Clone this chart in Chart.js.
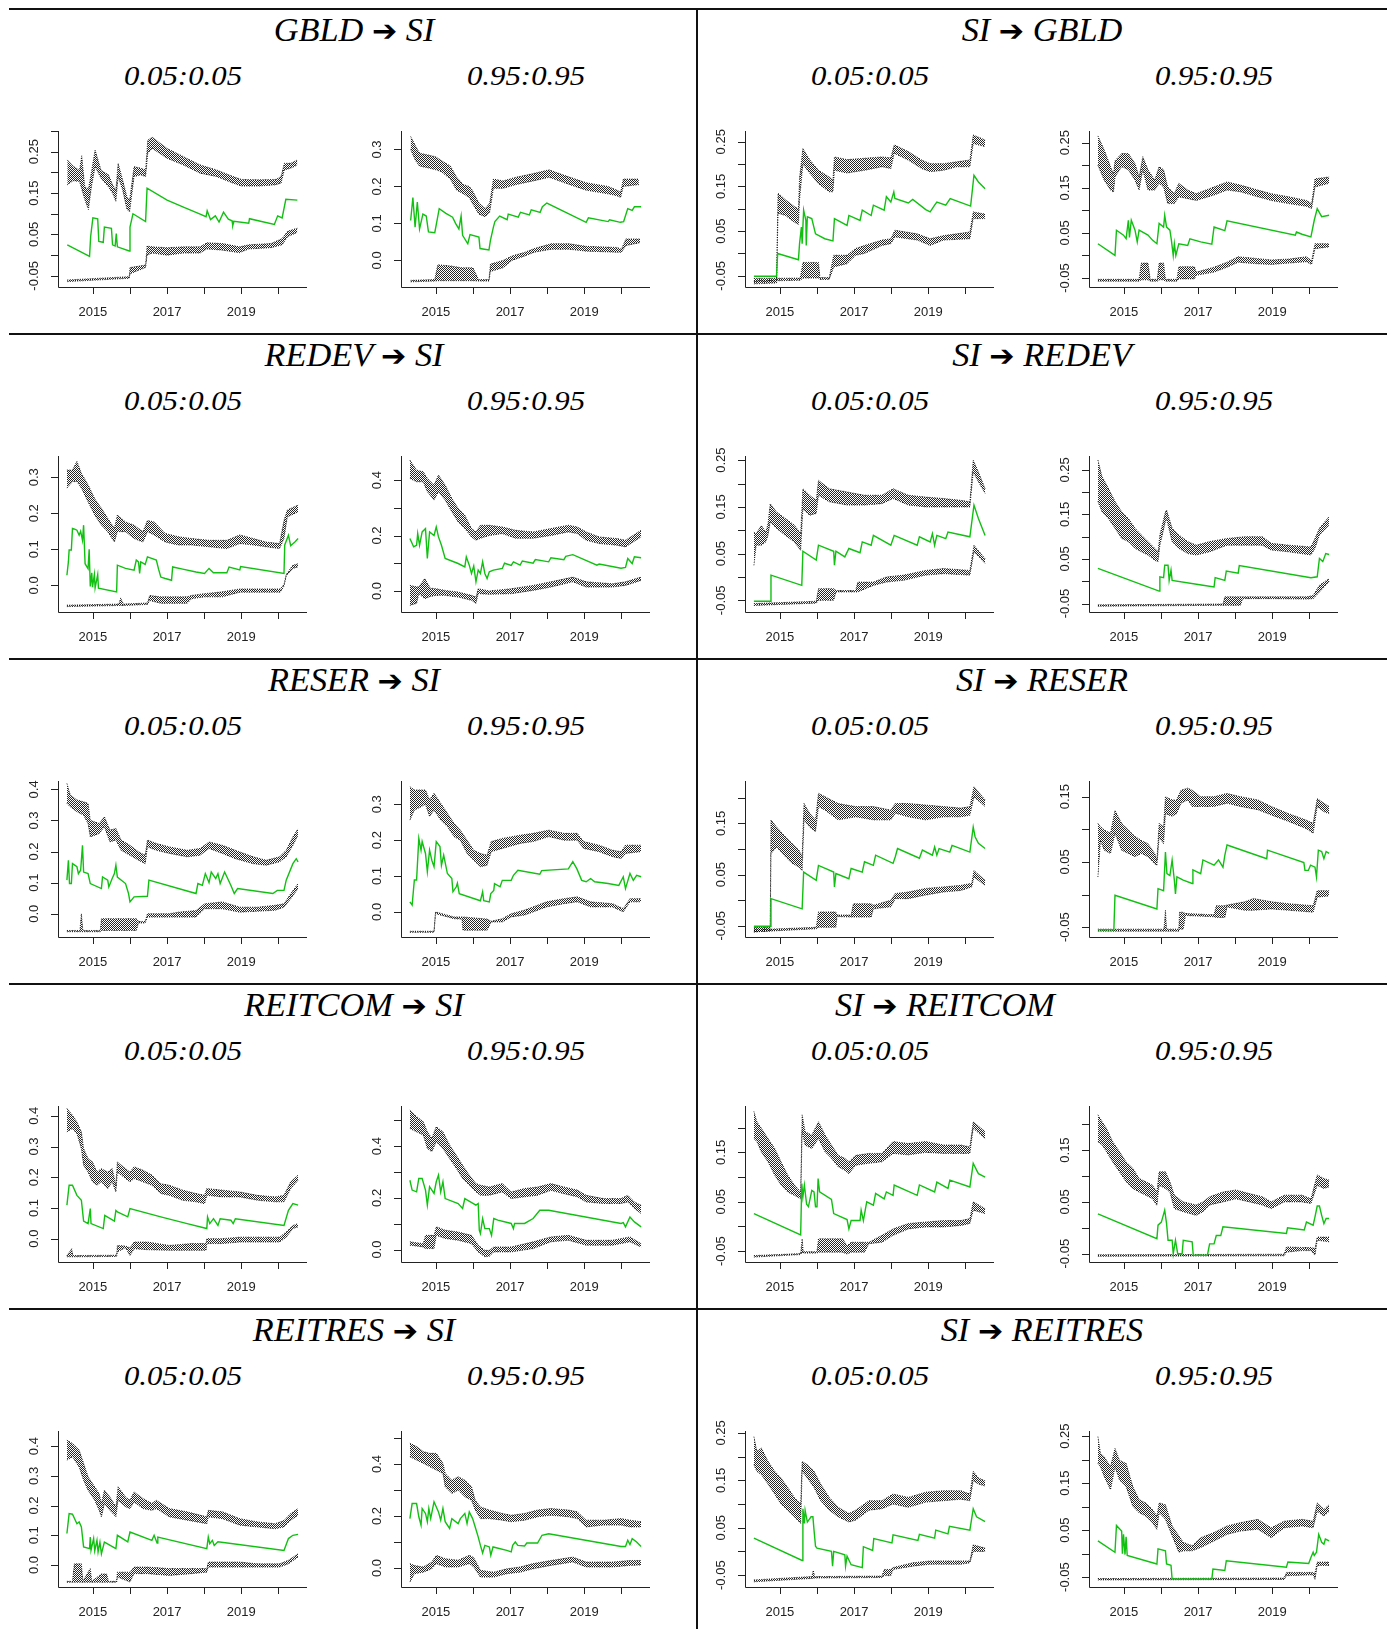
<!DOCTYPE html>
<html>
<head>
<meta charset="utf-8">
<script src="https://cdn.jsdelivr.net/npm/chart.js@4.4.0/dist/chart.umd.min.js"></script>
<style>
body{margin:0;background:#fff;}
#page{position:relative;width:1391px;height:1629px;overflow:hidden;background:#fff;}
.hl{position:absolute;left:9px;width:1378px;height:2px;background:#111;}
.vl{position:absolute;left:696px;top:8px;width:2px;height:1621px;background:#111;}
.ttl,.sub{position:absolute;white-space:nowrap;line-height:1;color:#000;
  font-family:"Liberation Serif","Times New Roman",serif;font-style:italic;}
.ttl{font-size:33px;}
.sub{font-size:28px;}
.arr{font-family:"DejaVu Sans",sans-serif;font-style:normal;font-size:29px;}
canvas{position:absolute;}
</style>
</head>
<body>
<div id="page"></div>
<script>
// names of the panels and the two quantile pairs
const series = ['GBLD','REDEV','RESER','REITCOM','REITRES'];
const quantiles = ['0.05:0.05','0.95:0.95'];

// x axis (years)
const xRange = [2014.06, 2020.77];
const yearTicks = [2014,2015,2016,2017,2018,2019,2020];
const yearLabels = ['2015','2017','2019'];

// y axis ticks
const ticks05 = [-0.05,0,0.05,0.1,0.15,0.2,0.25,0.3];
const labels05 = ['-0.05','0.05','0.15','0.25'];
const ticks10 = [0,0.1,0.2,0.3,0.4,0.5];
const labels10 = ['0.0','0.1','0.2','0.3','0.4'];
const labels20 = ['0.0','0.2','0.4'];

// black bands: [year, low, high]   green line: [year, value]
// GBLD -> SI, 0.05
const c1a_y = [-0.077, 0.30];
const c1a_up = [[2014.31,0.17,0.23],[2014.47,0.18,0.215],[2014.64,0.178,0.205],[2014.7,0.16,0.24],[2014.78,0.135,0.165],[2014.88,0.11,0.16],[2014.96,0.165,0.2],[2015.06,0.214,0.254],[2015.22,0.186,0.205],[2015.42,0.165,0.194],[2015.53,0.15,0.17],[2015.62,0.13,0.157],[2015.68,0.19,0.222],[2015.8,0.158,0.182],[2015.92,0.11,0.14],[2015.99,0.105,0.133],[2016.11,0.19,0.214],[2016.29,0.194,0.21],[2016.42,0.19,0.206],[2016.48,0.246,0.278],[2016.6,0.258,0.285],[2017.0,0.234,0.258],[2017.44,0.218,0.238],[2017.89,0.198,0.218],[2018.33,0.19,0.206],[2018.78,0.174,0.19],[2019.0,0.167,0.183],[2019.49,0.167,0.182],[2019.93,0.17,0.183],[2020.07,0.174,0.19],[2020.16,0.206,0.222],[2020.33,0.21,0.222],[2020.51,0.218,0.23]];
const c1a_mid = [[2014.31,0.025],[2014.91,-0.003],[2014.94,0.045],[2015.0,0.09],[2015.13,0.088],[2015.16,0.033],[2015.28,0.031],[2015.31,0.068],[2015.5,0.065],[2015.53,0.025],[2015.6,0.022],[2015.63,0.052],[2015.66,0.02],[2015.98,0.01],[2016.0,0.068],[2016.08,0.1],[2016.42,0.081],[2016.46,0.162],[2017.0,0.133],[2017.44,0.116],[2017.89,0.099],[2018.05,0.093],[2018.08,0.107],[2018.17,0.086],[2018.3,0.095],[2018.4,0.08],[2018.52,0.104],[2018.65,0.087],[2018.75,0.083],[2018.77,0.072],[2018.8,0.082],[2019.2,0.077],[2019.22,0.088],[2019.89,0.074],[2019.98,0.095],[2020.1,0.09],[2020.2,0.135],[2020.51,0.133]];
const c1a_lo = [[2014.31,-0.064,-0.06],[2015.98,-0.056,-0.052],[2016.0,-0.045,-0.03],[2016.42,-0.03,-0.024],[2016.46,0.0,0.022],[2016.6,0.005,0.02],[2017.0,0.0,0.018],[2017.44,0.005,0.02],[2017.89,0.005,0.02],[2018.07,0.015,0.03],[2018.5,0.012,0.028],[2018.95,0.006,0.02],[2019.2,0.015,0.025],[2019.8,0.018,0.028],[2020.1,0.025,0.04],[2020.25,0.045,0.058],[2020.51,0.055,0.065]];

// GBLD -> SI, 0.95
const c1b_y = [-0.072, 0.35];
const c1b_up = [[2014.32,0.30,0.335],[2014.45,0.27,0.31],[2014.56,0.255,0.29],[2014.8,0.25,0.285],[2015.0,0.245,0.28],[2015.15,0.24,0.27],[2015.39,0.22,0.255],[2015.56,0.19,0.225],[2015.74,0.18,0.205],[2015.9,0.17,0.2],[2015.98,0.155,0.19],[2016.16,0.125,0.155],[2016.33,0.118,0.14],[2016.45,0.13,0.155],[2016.55,0.195,0.22],[2016.81,0.195,0.215],[2017.16,0.205,0.225],[2017.63,0.215,0.235],[2018.05,0.225,0.245],[2018.46,0.21,0.23],[2019.05,0.19,0.21],[2019.64,0.18,0.2],[2019.88,0.175,0.19],[2019.98,0.17,0.185],[2020.05,0.2,0.22],[2020.47,0.205,0.22]];
const c1b_mid = [[2014.32,0.108],[2014.38,0.17],[2014.44,0.09],[2014.5,0.158],[2014.56,0.085],[2014.65,0.125],[2014.74,0.12],[2014.8,0.077],[2014.97,0.075],[2015.09,0.14],[2015.27,0.127],[2015.45,0.117],[2015.53,0.1],[2015.62,0.085],[2015.68,0.12],[2015.72,0.068],[2015.86,0.045],[2015.92,0.07],[2016.16,0.063],[2016.19,0.032],[2016.43,0.028],[2016.47,0.054],[2016.55,0.09],[2016.59,0.105],[2016.72,0.12],[2016.92,0.11],[2016.95,0.125],[2017.22,0.117],[2017.28,0.13],[2017.52,0.123],[2017.57,0.137],[2017.81,0.13],[2017.87,0.145],[2017.99,0.155],[2019.05,0.103],[2019.11,0.115],[2019.64,0.105],[2019.68,0.11],[2019.97,0.103],[2020.06,0.105],[2020.17,0.14],[2020.29,0.135],[2020.35,0.145],[2020.53,0.145]];
const c1b_lo = [[2014.32,-0.058,-0.054],[2014.97,-0.056,-0.052],[2015.05,-0.055,-0.012],[2015.4,-0.055,-0.015],[2015.7,-0.055,-0.02],[2016.0,-0.055,-0.02],[2016.15,-0.056,-0.052],[2016.43,-0.056,-0.052],[2016.47,-0.03,-0.01],[2016.81,-0.02,0.0],[2017.05,0.0,0.012],[2017.4,0.012,0.022],[2017.65,0.022,0.032],[2018.1,0.03,0.045],[2018.6,0.03,0.045],[2019.05,0.025,0.038],[2019.88,0.022,0.035],[2020.0,0.022,0.03],[2020.12,0.04,0.058],[2020.5,0.048,0.058]];

// SI -> GBLD, 0.05
const c2a_y = [-0.075, 0.274];
const c2a_up = [[2014.3,-0.068,-0.062],[2014.91,-0.066,-0.06],[2014.95,0.09,0.135],[2015.15,0.085,0.12],[2015.39,0.07,0.105],[2015.5,0.065,0.1],[2015.53,0.12,0.17],[2015.62,0.2,0.235],[2015.8,0.18,0.21],[2016.04,0.156,0.186],[2016.33,0.138,0.171],[2016.43,0.138,0.164],[2016.47,0.186,0.216],[2016.81,0.18,0.21],[2017.28,0.186,0.213],[2017.75,0.194,0.216],[2017.99,0.19,0.214],[2018.08,0.224,0.243],[2018.46,0.209,0.228],[2018.82,0.19,0.209],[2019.05,0.183,0.201],[2019.41,0.186,0.201],[2019.76,0.194,0.205],[2020.12,0.194,0.209],[2020.21,0.246,0.265],[2020.53,0.239,0.254]];
const c2a_mid = [[2014.3,-0.051],[2014.91,-0.051],[2014.94,0.0],[2015.5,-0.014],[2015.53,0.022],[2015.58,0.059],[2015.6,0.022],[2015.64,0.097],[2015.7,0.074],[2015.71,0.018],[2015.74,0.082],[2015.86,0.078],[2015.96,0.044],[2016.21,0.033],[2016.43,0.028],[2016.47,0.078],[2016.81,0.063],[2016.86,0.085],[2017.16,0.074],[2017.22,0.097],[2017.46,0.085],[2017.52,0.108],[2017.81,0.097],[2017.87,0.127],[2017.99,0.115],[2018.07,0.138],[2018.1,0.123],[2018.46,0.113],[2018.58,0.121],[2018.93,0.098],[2019.05,0.093],[2019.17,0.108],[2019.23,0.115],[2019.47,0.108],[2019.59,0.123],[2020.14,0.106],[2020.23,0.175],[2020.35,0.16],[2020.53,0.145]];
const c2a_lo = [[2014.3,-0.062,-0.056],[2015.55,-0.06,-0.055],[2015.62,-0.055,-0.02],[2016.04,-0.055,-0.02],[2016.08,-0.058,-0.054],[2016.33,-0.058,-0.054],[2016.45,-0.03,-0.004],[2016.81,-0.023,-0.004],[2017.04,-0.004,0.011],[2017.28,0.0,0.018],[2017.75,0.018,0.03],[2017.99,0.022,0.033],[2018.1,0.037,0.052],[2018.7,0.03,0.044],[2019.05,0.018,0.033],[2019.41,0.03,0.04],[2020.12,0.033,0.048],[2020.21,0.078,0.093],[2020.53,0.078,0.088]];

// SI -> GBLD, 0.95
const c2b_y = [-0.07, 0.276];
const c2b_up = [[2014.3,0.2,0.265],[2014.47,0.167,0.234],[2014.64,0.145,0.197],[2014.72,0.14,0.18],[2014.76,0.174,0.21],[2014.94,0.197,0.226],[2015.12,0.19,0.226],[2015.3,0.167,0.204],[2015.41,0.145,0.174],[2015.51,0.19,0.219],[2015.65,0.145,0.19],[2015.83,0.145,0.167],[2015.95,0.16,0.197],[2016.07,0.152,0.19],[2016.18,0.115,0.152],[2016.36,0.115,0.137],[2016.48,0.13,0.16],[2016.72,0.126,0.145],[2016.95,0.122,0.137],[2017.43,0.134,0.152],[2017.78,0.145,0.163],[2018.14,0.141,0.156],[2018.61,0.13,0.145],[2018.97,0.122,0.137],[2019.44,0.115,0.13],[2019.92,0.109,0.122],[2020.06,0.104,0.115],[2020.15,0.152,0.17],[2020.53,0.16,0.174]];
const c2b_mid = [[2014.3,0.026],[2014.76,0.0],[2014.8,0.056],[2014.99,0.045],[2015.06,0.037],[2015.12,0.078],[2015.15,0.04],[2015.2,0.078],[2015.3,0.056],[2015.36,0.03],[2015.41,0.056],[2015.65,0.045],[2015.77,0.034],[2015.89,0.026],[2015.95,0.071],[2016.07,0.063],[2016.1,0.089],[2016.15,0.063],[2016.24,0.056],[2016.28,0.034],[2016.33,0.0],[2016.36,0.026],[2016.4,0.0],[2016.48,0.026],[2016.72,0.022],[2016.78,0.037],[2017.07,0.03],[2017.37,0.025],[2017.43,0.063],[2017.72,0.055],[2017.78,0.077],[2019.62,0.045],[2019.65,0.052],[2019.8,0.047],[2020.04,0.041],[2020.13,0.078],[2020.21,0.104],[2020.33,0.086],[2020.53,0.089]];
const c2b_lo = [[2014.3,-0.057,-0.053],[2015.41,-0.057,-0.053],[2015.47,-0.054,-0.017],[2015.65,-0.054,-0.017],[2015.71,-0.057,-0.053],[2015.9,-0.057,-0.053],[2015.95,-0.054,-0.017],[2016.07,-0.054,-0.017],[2016.12,-0.057,-0.053],[2016.43,-0.057,-0.053],[2016.48,-0.052,-0.025],[2016.9,-0.052,-0.025],[2016.95,-0.044,-0.037],[2017.43,-0.037,-0.026],[2017.78,-0.026,-0.015],[2018.08,-0.015,-0.003],[2018.49,-0.018,-0.006],[2018.97,-0.02,-0.01],[2019.44,-0.017,-0.008],[2019.92,-0.014,-0.003],[2020.06,-0.02,-0.012],[2020.15,0.015,0.026],[2020.53,0.019,0.026]];

// REDEV -> SI, 0.05
const c3a_y = [-0.074, 0.359];
const c3a_up = [[2014.3,0.27,0.32],[2014.45,0.288,0.32],[2014.57,0.288,0.344],[2014.69,0.27,0.311],[2014.87,0.232,0.279],[2015.05,0.195,0.24],[2015.23,0.167,0.214],[2015.4,0.149,0.186],[2015.58,0.12,0.158],[2015.66,0.149,0.195],[2015.88,0.149,0.176],[2016.11,0.13,0.167],[2016.35,0.12,0.149],[2016.47,0.149,0.18],[2016.65,0.14,0.176],[2016.95,0.12,0.144],[2017.3,0.112,0.135],[2017.66,0.112,0.13],[2018.13,0.107,0.125],[2018.61,0.102,0.125],[2018.96,0.116,0.14],[2019.32,0.112,0.13],[2019.67,0.107,0.12],[2020.03,0.102,0.116],[2020.15,0.13,0.18],[2020.24,0.19,0.209],[2020.53,0.204,0.223]];
const c3a_mid = [[2014.3,0.028],[2014.34,0.065],[2014.36,0.098],[2014.42,0.098],[2014.45,0.158],[2014.51,0.156],[2014.57,0.153],[2014.63,0.139],[2014.67,0.15],[2014.72,0.125],[2014.75,0.167],[2014.79,0.06],[2014.87,0.046],[2014.9,0.1],[2014.93,-0.003],[2014.97,0.035],[2014.99,-0.005],[2015.04,0.03],[2015.06,-0.007],[2015.13,0.03],[2015.15,-0.008],[2015.64,-0.018],[2015.66,0.056],[2015.88,0.047],[2016.11,0.042],[2016.17,0.07],[2016.23,0.065],[2016.26,0.033],[2016.29,0.065],[2016.41,0.058],[2016.47,0.079],[2016.71,0.07],[2016.77,0.045],[2016.83,0.023],[2016.95,0.019],[2017.12,0.014],[2017.15,0.051],[2017.42,0.045],[2017.78,0.037],[2018.01,0.033],[2018.13,0.047],[2018.25,0.035],[2018.61,0.035],[2018.67,0.051],[2018.96,0.043],[2018.98,0.052],[2020.15,0.033],[2020.17,0.112],[2020.27,0.139],[2020.33,0.11],[2020.45,0.121],[2020.53,0.13]];
const c3a_lo = [[2014.3,-0.059,-0.055],[2015.7,-0.056,-0.052],[2015.75,-0.056,-0.035],[2015.82,-0.056,-0.052],[2016.47,-0.053,-0.049],[2016.53,-0.042,-0.028],[2016.83,-0.05,-0.032],[2017.54,-0.05,-0.032],[2017.66,-0.037,-0.028],[2018.01,-0.032,-0.023],[2018.49,-0.032,-0.018],[2018.96,-0.019,-0.01],[2019.67,-0.019,-0.01],[2020.05,-0.019,-0.01],[2020.15,-0.002,0.002],[2020.21,0.026,0.03],[2020.39,0.047,0.056],[2020.53,0.051,0.06]];

// REDEV -> SI, 0.95
const c3b_y = [-0.076, 0.487];
const c3b_up = [[2014.3,0.406,0.472],[2014.48,0.394,0.436],[2014.66,0.394,0.43],[2014.77,0.358,0.406],[2014.95,0.328,0.382],[2015.07,0.358,0.418],[2015.25,0.328,0.382],[2015.43,0.286,0.334],[2015.6,0.249,0.298],[2015.78,0.225,0.273],[2015.96,0.195,0.225],[2016.08,0.183,0.213],[2016.2,0.19,0.237],[2016.44,0.2,0.237],[2016.79,0.207,0.231],[2017.15,0.19,0.219],[2017.62,0.19,0.213],[2018.1,0.2,0.225],[2018.57,0.213,0.237],[2018.81,0.207,0.231],[2019.05,0.183,0.213],[2019.4,0.171,0.195],[2019.88,0.165,0.189],[2020.11,0.159,0.183],[2020.53,0.195,0.219]];
const c3b_mid = [[2014.3,0.189],[2014.4,0.159],[2014.48,0.165],[2014.51,0.207],[2014.56,0.165],[2014.63,0.213],[2014.72,0.225],[2014.77,0.117],[2014.83,0.213],[2014.95,0.2],[2015.01,0.231],[2015.07,0.195],[2015.15,0.165],[2015.25,0.117],[2015.6,0.099],[2015.78,0.087],[2015.82,0.123],[2015.9,0.093],[2015.96,0.063],[2016.02,0.09],[2016.08,0.033],[2016.14,0.075],[2016.2,0.063],[2016.26,0.105],[2016.32,0.063],[2016.38,0.045],[2016.44,0.069],[2016.55,0.075],[2016.79,0.081],[2016.85,0.1],[2017.03,0.092],[2017.09,0.105],[2017.27,0.093],[2017.33,0.108],[2017.62,0.1],[2017.68,0.113],[2018.04,0.105],[2018.1,0.12],[2018.45,0.113],[2018.5,0.125],[2018.69,0.131],[2019.34,0.093],[2019.4,0.097],[2019.99,0.082],[2020.11,0.085],[2020.17,0.117],[2020.29,0.099],[2020.35,0.123],[2020.53,0.12]];
const c3b_lo = [[2014.3,-0.052,0.02],[2014.48,-0.045,0.015],[2014.54,-0.01,0.014],[2014.7,-0.028,0.045],[2014.85,-0.02,0.01],[2015.01,-0.016,0.008],[2015.25,-0.016,0.002],[2015.6,-0.022,-0.004],[2015.96,-0.034,-0.016],[2016.08,-0.045,-0.022],[2016.14,-0.01,0.008],[2016.44,-0.012,0.0],[2017.03,-0.01,0.008],[2017.62,0.002,0.02],[2018.1,0.014,0.033],[2018.69,0.033,0.05],[2019.05,0.014,0.033],[2019.76,0.014,0.026],[2020.11,0.02,0.033],[2020.53,0.038,0.05]];

// SI -> REDEV, 0.05
const c4a_y = [-0.075, 0.259];
const c4a_up = [[2014.3,0.025,0.096],[2014.36,0.068,0.093],[2014.5,0.068,0.11],[2014.62,0.075,0.096],[2014.68,0.089,0.114],[2014.74,0.118,0.157],[2014.91,0.104,0.139],[2015.15,0.089,0.125],[2015.39,0.075,0.111],[2015.56,0.057,0.093],[2015.62,0.146,0.189],[2015.8,0.132,0.175],[2015.98,0.136,0.164],[2016.04,0.175,0.207],[2016.33,0.161,0.189],[2016.81,0.154,0.182],[2017.28,0.154,0.175],[2017.75,0.157,0.175],[2018.05,0.168,0.189],[2018.46,0.154,0.175],[2018.93,0.15,0.171],[2019.41,0.15,0.168],[2019.88,0.15,0.164],[2020.12,0.15,0.161],[2020.21,0.225,0.25],[2020.35,0.204,0.225],[2020.53,0.179,0.189]];
const c4a_mid = [[2014.3,-0.052],[2014.74,-0.052],[2014.76,0.004],[2015.59,-0.018],[2015.62,0.055],[2015.98,0.036],[2016.04,0.068],[2016.45,0.055],[2016.47,0.025],[2016.51,0.055],[2016.75,0.043],[2016.86,0.061],[2017.16,0.052],[2017.22,0.075],[2017.46,0.068],[2017.52,0.089],[2017.99,0.068],[2018.08,0.089],[2018.7,0.068],[2018.76,0.086],[2019.05,0.075],[2019.11,0.093],[2019.17,0.068],[2019.23,0.089],[2019.47,0.082],[2019.53,0.096],[2020.12,0.086],[2020.23,0.154],[2020.35,0.125],[2020.53,0.089]];
const c4a_lo = [[2014.3,-0.061,-0.057],[2015.98,-0.056,-0.052],[2016.04,-0.05,-0.025],[2016.45,-0.05,-0.025],[2016.51,-0.032,-0.029],[2017.04,-0.032,-0.029],[2017.1,-0.032,-0.011],[2017.52,-0.018,-0.011],[2017.87,-0.011,0.0],[2018.34,-0.007,0.004],[2018.93,0.004,0.014],[2019.41,0.007,0.018],[2020.12,0.004,0.014],[2020.23,0.054,0.068],[2020.53,0.029,0.039]];

// SI -> REDEV, 0.95
const c4b_y = [-0.069, 0.281];
const c4b_up = [[2014.3,0.179,0.272],[2014.41,0.156,0.235],[2014.58,0.141,0.209],[2014.76,0.119,0.179],[2014.94,0.096,0.156],[2015.12,0.089,0.141],[2015.3,0.074,0.119],[2015.47,0.066,0.104],[2015.65,0.059,0.089],[2015.83,0.047,0.074],[2015.92,0.044,0.066],[2015.97,0.081,0.104],[2016.12,0.134,0.156],[2016.15,0.14,0.16],[2016.3,0.089,0.119],[2016.48,0.074,0.104],[2016.72,0.062,0.089],[2016.95,0.059,0.081],[2017.31,0.066,0.089],[2017.78,0.081,0.096],[2018.26,0.081,0.1],[2018.73,0.081,0.1],[2018.97,0.07,0.085],[2019.44,0.066,0.081],[2020.04,0.059,0.077],[2020.15,0.074,0.096],[2020.27,0.104,0.119],[2020.53,0.126,0.145]];
const c4b_mid = [[2014.3,0.029],[2015.95,-0.022],[2015.97,0.01],[2016.07,0.008],[2016.1,0.036],[2016.19,0.036],[2016.22,0.002],[2016.27,0.025],[2016.3,0.002],[2017.13,-0.009],[2017.43,-0.013],[2017.46,0.008],[2017.72,0.002],[2017.76,0.023],[2018.08,0.018],[2018.11,0.035],[2020.04,0.008],[2020.21,0.01],[2020.27,0.051],[2020.36,0.044],[2020.44,0.062],[2020.53,0.06]];
const c4b_lo = [[2014.3,-0.056,-0.053],[2017.67,-0.054,-0.051],[2017.72,-0.054,-0.035],[2018.14,-0.054,-0.035],[2018.2,-0.039,-0.035],[2018.97,-0.039,-0.035],[2019.92,-0.04,-0.035],[2020.1,-0.039,-0.032],[2020.27,-0.024,-0.009],[2020.53,-0.001,0.006]];

// RESER -> SI, 0.05
const c5a_y = [-0.075, 0.427];
const c5a_up = [[2014.3,0.355,0.419],[2014.39,0.344,0.382],[2014.57,0.328,0.366],[2014.75,0.317,0.36],[2014.87,0.29,0.355],[2014.93,0.247,0.301],[2015.17,0.258,0.29],[2015.31,0.28,0.312],[2015.46,0.231,0.269],[2015.62,0.237,0.274],[2015.76,0.204,0.237],[2016.0,0.188,0.22],[2016.23,0.172,0.199],[2016.41,0.161,0.188],[2016.47,0.215,0.237],[2016.71,0.204,0.226],[2017.06,0.194,0.215],[2017.54,0.183,0.204],[2017.89,0.188,0.21],[2018.13,0.21,0.231],[2018.49,0.194,0.22],[2018.84,0.177,0.204],[2019.32,0.161,0.183],[2019.67,0.156,0.172],[2020.03,0.167,0.183],[2020.21,0.183,0.204],[2020.39,0.22,0.247],[2020.53,0.253,0.274]];
const c5a_mid = [[2014.3,0.108],[2014.34,0.172],[2014.37,0.097],[2014.42,0.097],[2014.45,0.161],[2014.57,0.151],[2014.61,0.129],[2014.67,0.14],[2014.72,0.22],[2014.75,0.134],[2014.87,0.129],[2014.93,0.097],[2015.23,0.081],[2015.26,0.118],[2015.4,0.108],[2015.43,0.086],[2015.52,0.113],[2015.58,0.129],[2015.62,0.156],[2015.66,0.118],[2015.88,0.097],[2015.96,0.065],[2016.0,0.038],[2016.11,0.054],[2016.47,0.056],[2016.51,0.108],[2017.78,0.065],[2017.83,0.097],[2017.95,0.091],[2018.03,0.129],[2018.13,0.1],[2018.19,0.134],[2018.31,0.113],[2018.37,0.129],[2018.43,0.097],[2018.55,0.134],[2018.72,0.091],[2018.81,0.065],[2018.9,0.081],[2019.85,0.065],[2019.97,0.075],[2020.15,0.075],[2020.21,0.108],[2020.39,0.161],[2020.48,0.177],[2020.53,0.167]];
const c5a_lo = [[2014.3,-0.058,-0.054],[2014.65,-0.058,-0.054],[2014.69,-0.058,0.0],[2014.73,-0.058,-0.054],[2015.2,-0.058,-0.054],[2015.23,-0.054,-0.016],[2016.17,-0.054,-0.016],[2016.23,-0.03,-0.025],[2016.41,-0.03,-0.025],[2016.47,-0.011,0.0],[2017.06,-0.011,0.0],[2017.3,-0.011,0.005],[2017.78,-0.011,0.01],[2018.01,0.016,0.032],[2018.49,0.016,0.038],[2018.96,0.005,0.021],[2019.44,0.008,0.021],[2019.91,0.011,0.027],[2020.15,0.021,0.032],[2020.33,0.048,0.064],[2020.53,0.081,0.097]];

// RESER -> SI, 0.95
const c5b_y = [-0.07, 0.365];
const c5b_up = [[2014.3,0.256,0.349],[2014.42,0.284,0.34],[2014.6,0.293,0.34],[2014.72,0.3,0.34],[2014.83,0.266,0.312],[2014.95,0.284,0.331],[2015.13,0.256,0.303],[2015.31,0.238,0.275],[2015.49,0.21,0.247],[2015.66,0.2,0.228],[2015.84,0.163,0.2],[2016.02,0.144,0.172],[2016.2,0.126,0.163],[2016.38,0.13,0.158],[2016.49,0.168,0.196],[2016.79,0.177,0.205],[2017.27,0.191,0.214],[2017.62,0.196,0.219],[2018.04,0.21,0.228],[2018.45,0.2,0.219],[2018.81,0.2,0.219],[2018.98,0.177,0.196],[2019.4,0.168,0.186],[2019.76,0.154,0.172],[2019.99,0.149,0.168],[2020.11,0.163,0.186],[2020.53,0.168,0.186]];
const c5b_mid = [[2014.3,0.028],[2014.36,0.019],[2014.42,0.089],[2014.48,0.089],[2014.54,0.205],[2014.6,0.172],[2014.63,0.196],[2014.72,0.163],[2014.77,0.112],[2014.83,0.172],[2014.89,0.144],[2014.95,0.126],[2015.01,0.196],[2015.11,0.182],[2015.15,0.13],[2015.21,0.158],[2015.31,0.107],[2015.43,0.093],[2015.46,0.056],[2015.55,0.07],[2015.58,0.08],[2015.63,0.051],[2016.2,0.031],[2016.26,0.056],[2016.29,0.031],[2016.44,0.028],[2016.48,0.051],[2016.56,0.06],[2016.58,0.079],[2016.73,0.07],[2016.79,0.088],[2017.03,0.088],[2017.09,0.102],[2017.21,0.116],[2017.8,0.105],[2017.85,0.115],[2018.57,0.12],[2018.69,0.14],[2018.8,0.12],[2018.93,0.088],[2019.05,0.084],[2019.17,0.093],[2019.28,0.084],[2019.64,0.079],[2019.93,0.074],[2020.05,0.098],[2020.11,0.065],[2020.23,0.107],[2020.32,0.088],[2020.41,0.102],[2020.53,0.098]];
const c5b_lo = [[2014.3,-0.057,-0.054],[2014.95,-0.057,-0.054],[2014.99,-0.005,0.0],[2015.49,-0.019,-0.014],[2015.7,-0.02,-0.014],[2015.73,-0.051,-0.014],[2016.38,-0.051,-0.02],[2016.49,-0.028,-0.026],[2016.79,-0.028,-0.019],[2017.03,-0.014,-0.005],[2017.39,-0.009,0.005],[2017.62,0.0,0.014],[2017.98,0.014,0.028],[2018.45,0.023,0.037],[2018.81,0.028,0.042],[2019.17,0.014,0.028],[2019.76,0.014,0.023],[2020.05,0.0,0.009],[2020.23,0.028,0.037],[2020.53,0.028,0.037]];

// SI -> RESER, 0.05
const c6a_y = [-0.072, 0.233];
const c6a_up = [[2014.3,-0.062,-0.053],[2014.74,-0.06,-0.053],[2014.76,0.091,0.157],[2014.91,0.104,0.143],[2015.15,0.085,0.124],[2015.33,0.072,0.111],[2015.51,0.065,0.098],[2015.6,0.058,0.085],[2015.65,0.157,0.189],[2015.8,0.143,0.17],[2015.96,0.134,0.157],[2016.04,0.183,0.209],[2016.22,0.176,0.202],[2016.57,0.157,0.189],[2017.04,0.163,0.183],[2017.52,0.157,0.183],[2017.99,0.157,0.176],[2018.11,0.17,0.189],[2018.46,0.163,0.189],[2018.93,0.157,0.186],[2019.41,0.163,0.183],[2019.88,0.163,0.18],[2020.12,0.166,0.183],[2020.23,0.202,0.222],[2020.53,0.183,0.196]];
const c6a_mid = [[2014.3,-0.051],[2014.74,-0.051],[2014.76,0.003],[2015.6,-0.017],[2015.64,0.055],[2015.98,0.039],[2016.04,0.068],[2016.45,0.055],[2016.47,0.026],[2016.51,0.052],[2016.86,0.042],[2016.92,0.062],[2017.22,0.055],[2017.28,0.075],[2017.52,0.068],[2017.58,0.088],[2018.05,0.072],[2018.11,0.085],[2018.17,0.101],[2018.76,0.082],[2018.84,0.098],[2019.11,0.088],[2019.17,0.104],[2019.23,0.088],[2019.29,0.101],[2019.58,0.094],[2019.64,0.107],[2020.12,0.094],[2020.21,0.143],[2020.26,0.124],[2020.35,0.111],[2020.53,0.101]];
const c6a_lo = [[2014.3,-0.062,-0.058],[2015.98,-0.056,-0.053],[2016.04,-0.053,-0.023],[2016.51,-0.053,-0.023],[2016.54,-0.032,-0.029],[2016.92,-0.033,-0.029],[2016.98,-0.033,-0.007],[2017.46,-0.033,-0.007],[2017.52,-0.017,-0.01],[2017.99,-0.013,0.0],[2018.11,0.003,0.013],[2018.46,0.003,0.016],[2018.93,0.01,0.023],[2019.41,0.016,0.026],[2019.88,0.019,0.029],[2020.17,0.026,0.033],[2020.23,0.045,0.058],[2020.53,0.029,0.039]];

// SI -> RESER, 0.95
const c6b_y = [-0.065, 0.174];
const c6b_up = [[2014.3,0.027,0.109],[2014.37,0.083,0.104],[2014.47,0.068,0.099],[2014.64,0.063,0.094],[2014.76,0.094,0.129],[2014.94,0.068,0.109],[2015.12,0.063,0.099],[2015.3,0.058,0.089],[2015.47,0.063,0.083],[2015.65,0.058,0.078],[2015.83,0.047,0.063],[2015.89,0.045,0.053],[2015.95,0.088,0.109],[2016.07,0.078,0.104],[2016.12,0.124,0.15],[2016.3,0.12,0.145],[2016.42,0.124,0.145],[2016.54,0.14,0.16],[2016.72,0.145,0.163],[2016.84,0.135,0.16],[2017.07,0.135,0.15],[2017.43,0.135,0.15],[2017.78,0.14,0.155],[2018.14,0.135,0.15],[2018.61,0.13,0.145],[2018.97,0.122,0.135],[2019.44,0.112,0.124],[2019.92,0.101,0.114],[2020.1,0.094,0.109],[2020.21,0.135,0.147],[2020.39,0.127,0.14],[2020.53,0.124,0.135]];
const c6b_mid = [[2014.3,-0.054],[2014.73,-0.054],[2014.76,-0.001],[2015.89,-0.022],[2015.92,0.009],[2016.07,0.006],[2016.12,0.065],[2016.16,0.032],[2016.24,0.029],[2016.3,0.053],[2016.36,0.022],[2016.39,0.001],[2016.43,0.027],[2016.6,0.022],[2016.84,0.017],[2016.86,0.038],[2017.07,0.032],[2017.13,0.053],[2017.43,0.045],[2017.55,0.053],[2017.67,0.042],[2017.72,0.06],[2017.78,0.076],[2018.85,0.055],[2018.87,0.068],[2019.85,0.049],[2019.88,0.037],[2019.97,0.037],[2020.03,0.045],[2020.15,0.042],[2020.19,0.027],[2020.24,0.068],[2020.33,0.066],[2020.39,0.055],[2020.45,0.066],[2020.53,0.063]];
const c6b_lo = [[2014.3,-0.056,-0.053],[2016.08,-0.056,-0.053],[2016.12,-0.056,-0.024],[2016.15,-0.056,-0.053],[2016.48,-0.056,-0.053],[2016.5,-0.053,-0.027],[2016.6,-0.053,-0.027],[2016.66,-0.032,-0.029],[2017.43,-0.034,-0.031],[2017.49,-0.035,-0.017],[2017.72,-0.035,-0.017],[2017.78,-0.019,-0.016],[2018.26,-0.024,-0.011],[2018.49,-0.024,-0.006],[2018.97,-0.022,-0.011],[2019.44,-0.024,-0.014],[2020.1,-0.027,-0.017],[2020.21,-0.004,0.006],[2020.53,-0.002,0.006]];

// REITCOM -> SI, 0.05
const c7a_y = [-0.076, 0.432];
const c7a_up = [[2014.3,0.348,0.424],[2014.45,0.359,0.402],[2014.57,0.342,0.38],[2014.69,0.293,0.348],[2014.75,0.239,0.293],[2014.87,0.217,0.261],[2014.99,0.185,0.25],[2015.11,0.174,0.217],[2015.23,0.185,0.228],[2015.4,0.163,0.217],[2015.52,0.185,0.228],[2015.62,0.152,0.174],[2015.66,0.217,0.25],[2015.88,0.196,0.228],[2016.0,0.185,0.217],[2016.11,0.196,0.234],[2016.35,0.185,0.223],[2016.59,0.174,0.207],[2016.83,0.147,0.179],[2017.06,0.141,0.174],[2017.42,0.125,0.158],[2017.78,0.12,0.147],[2018.01,0.114,0.141],[2018.07,0.141,0.163],[2018.49,0.136,0.158],[2018.96,0.136,0.152],[2019.44,0.125,0.141],[2019.91,0.12,0.136],[2020.15,0.12,0.141],[2020.33,0.163,0.185],[2020.53,0.19,0.207]];
const c7a_mid = [[2014.3,0.109],[2014.36,0.174],[2014.45,0.174],[2014.57,0.141],[2014.69,0.125],[2014.75,0.057],[2014.87,0.049],[2014.93,0.098],[2014.95,0.049],[2015.28,0.033],[2015.32,0.076],[2015.58,0.057],[2015.62,0.092],[2015.66,0.087],[2015.94,0.071],[2016.0,0.098],[2016.83,0.071],[2017.54,0.049],[2018.07,0.033],[2018.09,0.071],[2018.15,0.049],[2018.25,0.065],[2018.37,0.043],[2018.43,0.065],[2018.72,0.06],[2018.78,0.049],[2018.84,0.065],[2020.15,0.043],[2020.27,0.092],[2020.39,0.114],[2020.53,0.109]];
const c7a_lo = [[2014.3,-0.059,-0.055],[2014.43,-0.059,-0.033],[2014.46,-0.059,-0.055],[2015.64,-0.058,-0.054],[2015.66,-0.043,-0.022],[2015.88,-0.03,-0.024],[2016.0,-0.055,-0.03],[2016.11,-0.033,-0.011],[2016.47,-0.036,-0.011],[2017.06,-0.038,-0.022],[2017.66,-0.038,-0.016],[2018.05,-0.038,-0.016],[2018.07,-0.016,0.0],[2018.49,-0.016,0.0],[2018.96,-0.011,0.005],[2019.44,-0.011,0.005],[2020.03,-0.011,0.005],[2020.21,0.005,0.022],[2020.39,0.033,0.043],[2020.53,0.038,0.049]];

// REITCOM -> SI, 0.95
const c7b_y = [-0.048, 0.555];
const c7b_up = [[2014.3,0.468,0.539],[2014.48,0.455,0.514],[2014.66,0.443,0.494],[2014.77,0.391,0.455],[2014.89,0.378,0.43],[2015.01,0.417,0.475],[2015.19,0.391,0.455],[2015.37,0.352,0.404],[2015.55,0.314,0.365],[2015.72,0.275,0.326],[2015.9,0.249,0.288],[2016.08,0.223,0.255],[2016.2,0.21,0.249],[2016.44,0.21,0.242],[2016.79,0.223,0.255],[2017.03,0.197,0.223],[2017.39,0.204,0.236],[2017.74,0.21,0.242],[2018.1,0.229,0.255],[2018.45,0.216,0.242],[2018.81,0.204,0.23],[2019.05,0.184,0.21],[2019.52,0.178,0.197],[2019.99,0.178,0.197],[2020.17,0.184,0.21],[2020.35,0.159,0.184],[2020.53,0.139,0.171]];
const c7b_mid = [[2014.3,0.268],[2014.36,0.23],[2014.48,0.223],[2014.54,0.275],[2014.63,0.275],[2014.72,0.23],[2014.77,0.172],[2014.83,0.243],[2014.95,0.217],[2015.01,0.262],[2015.07,0.288],[2015.13,0.223],[2015.19,0.262],[2015.25,0.197],[2015.6,0.178],[2015.72,0.159],[2015.78,0.197],[2016.08,0.172],[2016.14,0.178],[2016.17,0.075],[2016.2,0.062],[2016.26,0.12],[2016.32,0.081],[2016.44,0.081],[2016.5,0.055],[2016.56,0.12],[2016.67,0.114],[2017.03,0.101],[2017.09,0.081],[2017.12,0.101],[2017.39,0.101],[2017.62,0.12],[2017.8,0.152],[2018.04,0.152],[2019.99,0.101],[2020.05,0.104],[2020.11,0.088],[2020.23,0.126],[2020.35,0.107],[2020.53,0.088]];
const c7b_lo = [[2014.3,0.017,0.03],[2014.66,0.01,0.023],[2014.72,0.004,0.055],[2014.95,0.004,0.055],[2015.01,0.055,0.088],[2015.25,0.043,0.075],[2015.6,0.036,0.068],[2015.96,0.023,0.055],[2016.14,-0.009,0.017],[2016.32,-0.028,-0.003],[2016.44,-0.026,-0.003],[2016.56,-0.009,0.01],[2017.03,-0.009,0.01],[2017.62,0.004,0.03],[2018.1,0.03,0.049],[2018.57,0.036,0.055],[2019.05,0.017,0.036],[2019.76,0.017,0.036],[2020.23,0.03,0.049],[2020.53,0.01,0.023]];

// SI -> REITCOM, 0.05
const c8a_y = [-0.072, 0.244];
const c8a_up = [[2014.3,0.178,0.233],[2014.38,0.172,0.212],[2014.5,0.151,0.199],[2014.68,0.131,0.178],[2014.86,0.104,0.158],[2015.03,0.084,0.131],[2015.21,0.07,0.104],[2015.39,0.063,0.084],[2015.56,0.056,0.07],[2015.6,0.192,0.226],[2015.68,0.165,0.192],[2015.86,0.158,0.185],[2016.04,0.178,0.212],[2016.22,0.151,0.185],[2016.39,0.138,0.165],[2016.57,0.121,0.144],[2016.75,0.114,0.138],[2016.86,0.107,0.131],[2017.04,0.124,0.144],[2017.4,0.128,0.148],[2017.75,0.131,0.148],[2018.05,0.148,0.172],[2018.46,0.145,0.168],[2018.93,0.15,0.172],[2019.41,0.148,0.165],[2019.88,0.148,0.165],[2020.12,0.148,0.161],[2020.21,0.199,0.212],[2020.53,0.178,0.192]];
const c8a_mid = [[2014.3,0.026],[2015.56,-0.017],[2015.59,0.087],[2015.62,0.06],[2015.66,0.084],[2015.72,0.045],[2015.77,0.04],[2015.86,0.073],[2015.92,0.07],[2015.96,0.04],[2016.0,0.04],[2016.03,0.097],[2016.07,0.07],[2016.39,0.055],[2016.45,0.026],[2016.81,0.014],[2016.86,-0.005],[2016.92,0.012],[2017.16,0.012],[2017.19,0.033],[2017.25,0.012],[2017.34,0.05],[2017.52,0.043],[2017.58,0.067],[2017.81,0.056],[2017.87,0.07],[2018.05,0.063],[2018.08,0.084],[2018.7,0.063],[2018.76,0.084],[2019.17,0.07],[2019.23,0.09],[2019.53,0.077],[2019.58,0.094],[2020.12,0.08],[2020.21,0.128],[2020.3,0.114],[2020.35,0.107],[2020.53,0.1]];
const c8a_lo = [[2014.3,-0.062,-0.059],[2015.56,-0.057,-0.055],[2015.6,-0.052,-0.025],[2015.63,-0.054,-0.051],[2016.0,-0.054,-0.051],[2016.04,-0.052,-0.025],[2016.69,-0.052,-0.025],[2016.81,-0.056,-0.039],[2016.92,-0.052,-0.032],[2017.28,-0.052,-0.032],[2017.4,-0.035,-0.032],[2017.75,-0.032,-0.018],[2018.05,-0.018,-0.005],[2018.46,-0.005,0.006],[2018.93,-0.001,0.009],[2019.41,-0.001,0.012],[2019.88,0.002,0.012],[2020.12,0.006,0.016],[2020.21,0.033,0.05],[2020.53,0.026,0.036]];

// SI -> REITCOM, 0.95
const c8b_y = [-0.066, 0.235];
const c8b_up = [[2014.3,0.166,0.218],[2014.41,0.16,0.205],[2014.53,0.147,0.192],[2014.7,0.127,0.166],[2014.88,0.108,0.147],[2015.06,0.089,0.127],[2015.24,0.076,0.115],[2015.41,0.069,0.095],[2015.59,0.063,0.089],[2015.77,0.056,0.082],[2015.89,0.043,0.069],[2015.95,0.082,0.108],[2016.12,0.076,0.108],[2016.24,0.069,0.089],[2016.36,0.037,0.063],[2016.6,0.031,0.05],[2016.95,0.024,0.044],[2017.13,0.031,0.05],[2017.31,0.044,0.06],[2017.67,0.05,0.069],[2018.02,0.056,0.073],[2018.38,0.05,0.066],[2018.73,0.044,0.06],[2018.97,0.037,0.05],[2019.32,0.05,0.063],[2019.8,0.05,0.063],[2020.04,0.047,0.056],[2020.21,0.082,0.102],[2020.39,0.076,0.095],[2020.53,0.079,0.092]];
const c8b_mid = [[2014.3,0.027],[2015.89,-0.021],[2015.92,0.005],[2016.01,0.011],[2016.1,0.034],[2016.15,0.008],[2016.19,-0.024],[2016.3,-0.024],[2016.33,-0.05],[2016.39,-0.024],[2016.45,-0.05],[2016.57,-0.05],[2016.6,-0.024],[2016.84,-0.027],[2016.87,-0.053],[2017.25,-0.053],[2017.31,-0.031],[2017.43,-0.031],[2017.49,-0.015],[2017.61,-0.015],[2017.67,0.002],[2019.38,-0.011],[2019.41,0.0],[2019.86,-0.004],[2019.92,0.011],[2020.1,0.005],[2020.15,0.021],[2020.21,0.042],[2020.27,0.042],[2020.33,0.024],[2020.39,0.008],[2020.45,0.018],[2020.53,0.018]];
const c8b_lo = [[2014.3,-0.055,-0.052],[2019.32,-0.054,-0.051],[2019.38,-0.047,-0.037],[2019.8,-0.044,-0.038],[2020.04,-0.044,-0.038],[2020.15,-0.053,-0.04],[2020.21,-0.024,-0.018],[2020.53,-0.027,-0.018]];

// REITRES -> SI, 0.05
const c9a_y = [-0.074, 0.451];
const c9a_up = [[2014.3,0.353,0.42],[2014.45,0.364,0.409],[2014.63,0.33,0.387],[2014.75,0.285,0.342],[2014.87,0.252,0.297],[2015.05,0.218,0.263],[2015.17,0.184,0.24],[2015.23,0.162,0.207],[2015.31,0.207,0.252],[2015.46,0.184,0.229],[2015.62,0.162,0.196],[2015.68,0.218,0.263],[2015.88,0.196,0.229],[2016.0,0.19,0.218],[2016.11,0.212,0.246],[2016.35,0.19,0.224],[2016.59,0.184,0.207],[2016.71,0.19,0.218],[2017.06,0.162,0.19],[2017.54,0.151,0.179],[2018.07,0.139,0.162],[2018.11,0.162,0.184],[2018.49,0.156,0.179],[2018.96,0.134,0.156],[2019.44,0.128,0.145],[2019.91,0.122,0.139],[2020.15,0.128,0.15],[2020.33,0.151,0.173],[2020.53,0.167,0.19]];
const c9a_mid = [[2014.3,0.106],[2014.36,0.173],[2014.45,0.171],[2014.57,0.139],[2014.63,0.145],[2014.69,0.128],[2014.75,0.061],[2014.91,0.055],[2014.93,0.094],[2014.95,0.05],[2015.02,0.089],[2015.05,0.048],[2015.11,0.083],[2015.14,0.044],[2015.19,0.077],[2015.23,0.038],[2015.31,0.077],[2015.62,0.055],[2015.66,0.1],[2015.94,0.078],[2016.0,0.111],[2016.59,0.083],[2016.65,0.1],[2016.73,0.074],[2016.75,0.094],[2018.07,0.055],[2018.11,0.094],[2018.15,0.072],[2018.22,0.083],[2018.27,0.066],[2018.37,0.078],[2020.15,0.049],[2020.27,0.089],[2020.39,0.1],[2020.53,0.103]];
const c9a_lo = [[2014.3,-0.058,-0.055],[2014.45,-0.058,-0.055],[2014.5,-0.058,0.004],[2014.69,-0.058,0.004],[2014.73,-0.058,-0.055],[2014.93,-0.058,-0.012],[2014.97,-0.058,-0.055],[2015.23,-0.058,-0.03],[2015.37,-0.058,-0.03],[2015.42,-0.058,-0.055],[2015.64,-0.058,-0.055],[2015.66,-0.04,-0.024],[2016.0,-0.057,-0.024],[2016.11,-0.029,-0.007],[2016.47,-0.029,-0.007],[2017.06,-0.035,-0.012],[2017.66,-0.029,-0.012],[2018.07,-0.024,-0.012],[2018.11,-0.007,0.01],[2018.96,-0.007,0.01],[2019.44,-0.007,0.004],[2020.03,-0.007,0.004],[2020.27,0.004,0.016],[2020.53,0.027,0.038]];

// REITRES -> SI, 0.95
const c9b_y = [-0.073, 0.527];
const c9b_up = [[2014.3,0.428,0.48],[2014.48,0.415,0.467],[2014.66,0.403,0.448],[2014.83,0.39,0.441],[2015.01,0.377,0.441],[2015.19,0.364,0.403],[2015.25,0.313,0.364],[2015.43,0.287,0.338],[2015.6,0.3,0.351],[2015.78,0.274,0.338],[2015.96,0.261,0.313],[2016.06,0.223,0.261],[2016.2,0.19,0.235],[2016.44,0.19,0.223],[2016.79,0.184,0.21],[2017.03,0.178,0.203],[2017.39,0.184,0.21],[2017.74,0.197,0.223],[2018.1,0.203,0.229],[2018.57,0.197,0.223],[2018.81,0.19,0.216],[2019.05,0.158,0.184],[2019.52,0.165,0.184],[2019.99,0.165,0.19],[2020.23,0.158,0.184],[2020.53,0.158,0.178]];
const c9b_mid = [[2014.3,0.19],[2014.36,0.248],[2014.48,0.248],[2014.54,0.197],[2014.6,0.165],[2014.63,0.229],[2014.72,0.21],[2014.77,0.178],[2014.81,0.229],[2014.86,0.19],[2014.95,0.255],[2015.07,0.216],[2015.13,0.184],[2015.19,0.229],[2015.25,0.178],[2015.37,0.152],[2015.43,0.19],[2015.6,0.171],[2015.66,0.19],[2015.78,0.21],[2015.84,0.171],[2015.9,0.216],[2015.99,0.19],[2016.06,0.158],[2016.14,0.12],[2016.2,0.087],[2016.26,0.058],[2016.32,0.087],[2016.44,0.081],[2016.48,0.049],[2016.54,0.081],[2016.91,0.068],[2017.03,0.062],[2017.07,0.087],[2017.14,0.1],[2017.21,0.087],[2017.39,0.085],[2017.45,0.096],[2017.74,0.096],[2017.86,0.126],[2018.04,0.132],[2019.99,0.083],[2020.11,0.083],[2020.17,0.107],[2020.23,0.09],[2020.29,0.113],[2020.41,0.1],[2020.53,0.083]];
const c9b_lo = [[2014.3,-0.054,0.017],[2014.42,-0.022,0.01],[2014.66,-0.016,0.004],[2014.89,-0.003,0.023],[2015.01,0.017,0.049],[2015.25,0.004,0.036],[2015.6,0.004,0.03],[2015.9,0.017,0.049],[2016.02,0.004,0.04],[2016.2,-0.035,-0.009],[2016.56,-0.035,-0.016],[2016.91,-0.022,-0.003],[2017.27,-0.016,0.004],[2017.62,-0.003,0.017],[2018.1,0.01,0.029],[2018.69,0.023,0.042],[2019.05,0.004,0.023],[2019.76,0.004,0.023],[2020.23,0.01,0.029],[2020.53,0.012,0.029]];

// SI -> REITRES, 0.05
const c10a_y = [-0.075, 0.254];
const c10a_up = [[2014.3,0.183,0.242],[2014.38,0.169,0.211],[2014.5,0.162,0.218],[2014.68,0.142,0.19],[2014.86,0.121,0.169],[2015.03,0.1,0.155],[2015.21,0.087,0.135],[2015.39,0.073,0.114],[2015.56,0.059,0.1],[2015.6,0.169,0.19],[2015.74,0.155,0.183],[2015.92,0.135,0.169],[2016.1,0.107,0.142],[2016.33,0.087,0.114],[2016.57,0.073,0.093],[2016.86,0.062,0.08],[2017.04,0.066,0.087],[2017.4,0.087,0.107],[2017.75,0.09,0.107],[2018.05,0.1,0.121],[2018.46,0.093,0.114],[2018.93,0.104,0.125],[2019.41,0.107,0.128],[2019.88,0.11,0.128],[2020.12,0.107,0.121],[2020.21,0.149,0.169],[2020.35,0.142,0.155],[2020.53,0.138,0.149]];
const c10a_mid = [[2014.3,0.028],[2015.6,-0.019],[2015.62,0.09],[2015.66,0.059],[2015.68,0.087],[2015.74,0.062],[2015.84,0.073],[2015.89,0.073],[2015.92,0.045],[2015.96,0.011],[2016.0,0.007],[2016.39,0.0],[2016.42,-0.031],[2016.45,0.0],[2016.75,-0.007],[2016.77,-0.031],[2016.81,-0.01],[2016.92,-0.028],[2017.22,-0.034],[2017.25,0.01],[2017.5,0.002],[2017.53,0.027],[2018.02,0.018],[2018.05,0.035],[2018.72,0.023],[2018.76,0.036],[2019.17,0.028],[2019.2,0.045],[2019.53,0.037],[2019.57,0.053],[2020.12,0.045],[2020.21,0.09],[2020.3,0.073],[2020.53,0.063]];
const c10a_lo = [[2014.3,-0.064,-0.06],[2015.86,-0.057,-0.053],[2015.9,-0.057,-0.04],[2015.94,-0.056,-0.053],[2017.75,-0.055,-0.052],[2017.81,-0.051,-0.038],[2017.99,-0.051,-0.038],[2018.05,-0.038,-0.034],[2018.58,-0.031,-0.024],[2019.05,-0.027,-0.02],[2019.88,-0.027,-0.02],[2020.12,-0.024,-0.02],[2020.21,0.0,0.014],[2020.53,0.0,0.007]];

// SI -> REITRES, 0.95
const c10b_y = [-0.071, 0.261];
const c10b_up = [[2014.3,0.192,0.249],[2014.37,0.185,0.213],[2014.47,0.164,0.206],[2014.64,0.136,0.185],[2014.76,0.185,0.224],[2014.88,0.157,0.199],[2015.06,0.143,0.192],[2015.24,0.101,0.143],[2015.41,0.087,0.115],[2015.59,0.08,0.108],[2015.77,0.066,0.094],[2015.89,0.052,0.08],[2015.95,0.087,0.108],[2016.12,0.073,0.104],[2016.3,0.038,0.059],[2016.48,0.003,0.038],[2016.6,0.006,0.024],[2016.84,0.006,0.017],[2017.07,0.013,0.034],[2017.43,0.027,0.045],[2017.78,0.041,0.059],[2018.14,0.048,0.066],[2018.61,0.052,0.073],[2018.97,0.034,0.055],[2019.32,0.055,0.069],[2019.8,0.059,0.073],[2020.1,0.055,0.069],[2020.21,0.09,0.108],[2020.39,0.08,0.094],[2020.53,0.09,0.104]];
const c10b_mid = [[2014.3,0.027],[2014.76,0.003],[2014.8,0.06],[2014.94,0.048],[2014.96,0.0],[2014.99,0.041],[2015.03,-0.002],[2015.06,0.036],[2015.09,-0.004],[2015.89,-0.022],[2015.92,0.01],[2016.12,0.006],[2016.15,-0.022],[2016.27,-0.025],[2016.3,-0.054],[2017.37,-0.054],[2017.4,-0.033],[2017.72,-0.036],[2017.76,-0.015],[2019.38,-0.029],[2019.42,-0.018],[2019.98,-0.021],[2020.04,-0.008],[2020.1,0.003],[2020.13,-0.004],[2020.19,0.003],[2020.25,0.041],[2020.33,0.024],[2020.39,0.02],[2020.43,0.031],[2020.53,0.027]];
const c10b_lo = [[2014.3,-0.056,-0.053],[2019.32,-0.055,-0.052],[2019.38,-0.047,-0.04],[2020.1,-0.045,-0.04],[2020.15,-0.055,-0.042],[2020.21,-0.025,-0.018],[2020.53,-0.025,-0.018]];

// order on the page: per row -> left cell (a,b), right cell (a,b)
let charts = [
  {up:c1a_up, mid:c1a_mid, lo:c1a_lo, y:c1a_y, ticks:ticks05, labels:labels05},
  {up:c1b_up, mid:c1b_mid, lo:c1b_lo, y:c1b_y, ticks:ticks10, labels:labels10},
  {up:c2a_up, mid:c2a_mid, lo:c2a_lo, y:c2a_y, ticks:ticks05, labels:labels05},
  {up:c2b_up, mid:c2b_mid, lo:c2b_lo, y:c2b_y, ticks:ticks05, labels:labels05},
  {up:c3a_up, mid:c3a_mid, lo:c3a_lo, y:c3a_y, ticks:ticks10, labels:labels10},
  {up:c3b_up, mid:c3b_mid, lo:c3b_lo, y:c3b_y, ticks:ticks10, labels:labels20},
  {up:c4a_up, mid:c4a_mid, lo:c4a_lo, y:c4a_y, ticks:ticks05, labels:labels05},
  {up:c4b_up, mid:c4b_mid, lo:c4b_lo, y:c4b_y, ticks:ticks05, labels:labels05},
  {up:c5a_up, mid:c5a_mid, lo:c5a_lo, y:c5a_y, ticks:ticks10, labels:labels10},
  {up:c5b_up, mid:c5b_mid, lo:c5b_lo, y:c5b_y, ticks:ticks10, labels:labels10},
  {up:c6a_up, mid:c6a_mid, lo:c6a_lo, y:c6a_y, ticks:ticks05, labels:labels05},
  {up:c6b_up, mid:c6b_mid, lo:c6b_lo, y:c6b_y, ticks:ticks05, labels:labels05},
  {up:c7a_up, mid:c7a_mid, lo:c7a_lo, y:c7a_y, ticks:ticks10, labels:labels10},
  {up:c7b_up, mid:c7b_mid, lo:c7b_lo, y:c7b_y, ticks:ticks10, labels:labels20},
  {up:c8a_up, mid:c8a_mid, lo:c8a_lo, y:c8a_y, ticks:ticks05, labels:labels05},
  {up:c8b_up, mid:c8b_mid, lo:c8b_lo, y:c8b_y, ticks:ticks05, labels:labels05},
  {up:c9a_up, mid:c9a_mid, lo:c9a_lo, y:c9a_y, ticks:ticks10, labels:labels10},
  {up:c9b_up, mid:c9b_mid, lo:c9b_lo, y:c9b_y, ticks:ticks10, labels:labels20},
  {up:c10a_up, mid:c10a_mid, lo:c10a_lo, y:c10a_y, ticks:ticks05, labels:labels05},
  {up:c10b_up, mid:c10b_mid, lo:c10b_lo, y:c10b_y, ticks:ticks05, labels:labels05}
];

// layout
const plotLefts = [58, 401, 745, 1089];
const plotTop0 = 131, rowStep = 325, plotW = 249, plotH = 156;
const PAD = {left:50, top:22, right:12, bottom:42};
const page = document.getElementById('page');

// frame lines
for(let r = 0; r < 5; r++){
  let d = document.createElement('div');
  d.className = 'hl';
  d.style.top = (8 + rowStep*r) + 'px';
  page.appendChild(d);
}
let vl = document.createElement('div');
vl.className = 'vl';
page.appendChild(vl);

let addText = (cls, html, cx, cy, sx)=>{
  let d = document.createElement('div');
  d.className = cls;
  d.innerHTML = html;
  d.style.left = cx + 'px';
  d.style.top = cy + 'px';
  d.style.transform = `translate(-50%,-50%) scaleX(${sx})`;
  page.appendChild(d);
};

const arrow = '<span class="arr">&#10132;</span>';
for(let r = 0; r < 5; r++){
  addText('ttl', `${series[r]} ${arrow} SI`, 354, 30 + rowStep*r, 1.04);
  let rx = (series[r] == 'REITCOM') ? 945 : 1042;
  addText('ttl', `SI ${arrow} ${series[r]}`, rx, 30 + rowStep*r, 1.04);
  for(let c = 0; c < 4; c++){
    addText('sub', quantiles[c % 2], plotLefts[c] + plotW/2, 76 + rowStep*r, 1.1);
  }
}

// dotted texture for the black bands
let stipple = ()=>{
  let c = document.createElement('canvas');
  c.width = 2; c.height = 2;
  let g = c.getContext('2d');
  g.fillStyle = 'rgba(0,0,0,0.85)';
  g.fillRect(0,0,1,1);
  g.fillRect(1,1,1,1);
  return g.createPattern(c, 'repeat');
};
const pat = stipple();

// R-like axes: L box, ticks outside, rotated y labels
let makeAxes = (cfg)=>({
  id: 'rAxes',
  afterDraw(chart){
    const {ctx, chartArea:a, scales} = chart;
    const x = scales.x, y = scales.y;
    ctx.save();
    ctx.strokeStyle = '#222';
    ctx.lineWidth = 1;
    ctx.beginPath();
    ctx.moveTo(a.left + 0.5, a.top);
    ctx.lineTo(a.left + 0.5, a.bottom + 0.5);
    ctx.lineTo(a.right, a.bottom + 0.5);
    yearTicks.forEach(v=>{
      if(v < x.min || v > x.max) return;
      let px = Math.round(x.getPixelForValue(v)) + 0.5;
      ctx.moveTo(px, a.bottom);
      ctx.lineTo(px, a.bottom + 7);
    });
    cfg.ticks.forEach(v=>{
      if(v < y.min - 1e-6 || v > y.max + 1e-6) return;
      let py = Math.round(y.getPixelForValue(v)) + 0.5;
      ctx.moveTo(a.left, py);
      ctx.lineTo(a.left - 7, py);
    });
    ctx.stroke();
    ctx.fillStyle = '#222';
    ctx.font = '13px "Liberation Sans", Arial, sans-serif';
    ctx.textAlign = 'center';
    ctx.textBaseline = 'middle';
    yearLabels.forEach(s=>{
      ctx.fillText(s, x.getPixelForValue(parseFloat(s)), a.bottom + 25);
    });
    cfg.labels.forEach(s=>{
      let v = parseFloat(s);
      if(v < y.min - 1e-6 || v > y.max + 1e-6) return;
      ctx.save();
      ctx.translate(a.left - 24, y.getPixelForValue(v));
      ctx.rotate(-Math.PI/2);
      ctx.fillText(s, 0, 0);
      ctx.restore();
    });
    ctx.restore();
  }
});

let bandSets = (arr)=>{
  let line = {borderColor:'rgba(0,0,0,0.85)', borderWidth:1, borderDash:[1,1.5], pointRadius:0, tension:0};
  return [
    Object.assign({data: arr.map(p=>({x:p[0], y:p[2]})), fill:false}, line),
    Object.assign({data: arr.map(p=>({x:p[0], y:p[1]})), fill:'-1', backgroundColor:pat}, line)
  ];
};

for(let k = 0; k < charts.length; k++){
  let cfg = charts[k];
  let row = Math.floor(k / 4), col = k % 4;
  let cv = document.createElement('canvas');
  let w = plotW + PAD.left + PAD.right, h = plotH + PAD.top + PAD.bottom;
  cv.width = w; cv.height = h;
  cv.style.width = w + 'px'; cv.style.height = h + 'px';
  cv.style.left = (plotLefts[col] - PAD.left) + 'px';
  cv.style.top = (plotTop0 + rowStep*row - PAD.top) + 'px';
  page.appendChild(cv);

  let green = {data: cfg.mid.map(p=>({x:p[0], y:p[1]})), borderColor:'#12c012', borderWidth:1.4,
               pointRadius:0, tension:0, fill:false};
  new Chart(cv, {
    type: 'line',
    data: {datasets: [green].concat(bandSets(cfg.up), bandSets(cfg.lo))},
    options: {
      responsive: false,
      animation: false,
      devicePixelRatio: 1,
      layout: {padding: PAD},
      plugins: {legend:{display:false}, tooltip:{enabled:false}},
      scales: {
        x: {type:'linear', min:xRange[0], max:xRange[1], display:false},
        y: {type:'linear', min:cfg.y[0], max:cfg.y[1], display:false}
      }
    },
    plugins: [makeAxes(cfg)]
  });
}
</script>
</body>
</html>
